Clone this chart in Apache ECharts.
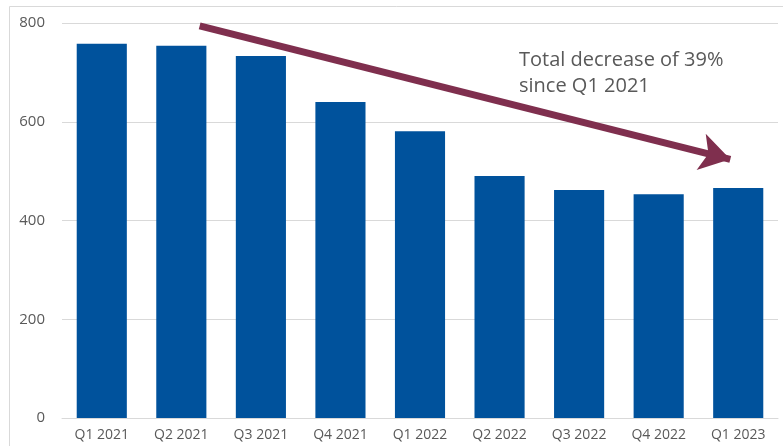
<!DOCTYPE html>
<html>
<head>
<meta charset="utf-8">
<script src="https://cdn.jsdelivr.net/npm/echarts@6/dist/echarts.min.js"></script>
<style>
  html, body { margin: 0; padding: 0; background: #fff; }
  #chart { width: 783px; height: 446px; }
</style>
</head>
<body>
<div id="chart"></div>
<script>
const quarters = ['Q1 2021', 'Q2 2021', 'Q3 2021', 'Q4 2021', 'Q1 2022', 'Q2 2022', 'Q3 2022', 'Q4 2022', 'Q1 2023'];
const values = [758, 754, 733, 640, 581, 490, 462, 453, 466];
const yTicks = [0, 200, 400, 600, 800];
// arrow from/to in (category position, value)
const arrowStart = [1.23, 794];
const arrowEnd = [7.9, 524];
const note = 'Total decrease of 39%\nsince Q1 2021';

const chart = echarts.init(document.getElementById('chart'));
const option = {
    backgroundColor: '#fff',
    animation: false,
    textStyle: { fontFamily: 'Open Sans' },
    title: {
        text: note,
        left: 519,
        top: 47,
        padding: 0,
        textStyle: { color: '#595959', fontSize: 20, fontWeight: 'normal', lineHeight: 26, fontFamily: 'Open Sans' }
    },
    graphic: [{
        type: 'rect',
        shape: { x: 9.5, y: 6.5, width: 900, height: 600 },
        style: { fill: 'none', stroke: '#d9d9d9', lineWidth: 1 },
        z: -1
    }],
    grid: { left: 62, right: 5, top: 23, bottom: 28 },
    xAxis: [{
        type: 'category',
        data: quarters,
        axisTick: { show: false },
        axisLine: { lineStyle: { color: '#d9d9d9' } },
        axisLabel: { color: '#595959', fontSize: 14, margin: 10, fontFamily: 'Open Sans' }
    }, {
        type: 'value',
        min: -0.5,
        max: 8.5,
        show: false
    }],
    yAxis: {
        type: 'value',
        min: yTicks[0],
        max: yTicks[yTicks.length - 1],
        interval: 200,
        axisLine: { show: false },
        axisTick: { show: false },
        splitLine: { lineStyle: { color: '#d9d9d9' } },
        axisLabel: { color: '#595959', fontSize: 15, margin: 17, fontFamily: 'Open Sans' }
    },
    series: [{
        type: 'bar',
        data: values,
        barCategoryGap: '37%',
        itemStyle: { color: '#00529c' }
    }, {
        type: 'line',
        xAxisIndex: 1,
        data: [],
        markLine: {
            silent: true,
            symbol: ['none', 'arrow'],
            symbolSize: [28, 30],
            label: { show: false },
            lineStyle: { color: '#7f2f4e', width: 7, type: 'solid' },
            data: [[
                { coord: arrowStart },
                { coord: arrowEnd }
            ]]
        }
    }]
};
chart.setOption(option);
</script>
</body>
</html>
